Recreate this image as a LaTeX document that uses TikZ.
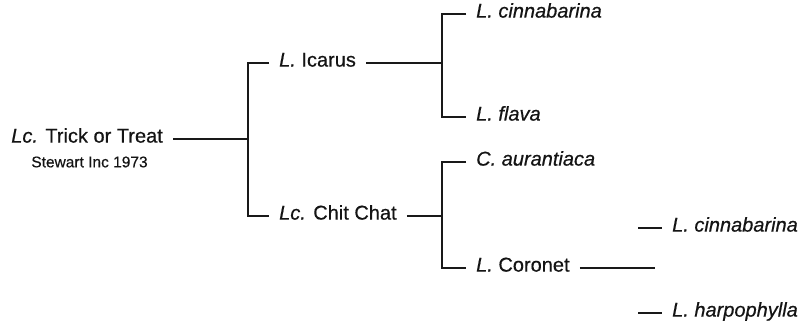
\documentclass[tikz,border=0pt]{standalone}
\usepackage{fontspec}
\setmainfont{Liberation Sans}[BoldFont=Liberation Sans,BoldFeatures={FakeBold=0.5},BoldItalicFont=Liberation Sans Italic,BoldItalicFeatures={FakeBold=0.5}]
\begin{document}
\begin{tikzpicture}[x=1pt,y=-1pt,
  lbl/.style={inner xsep=10pt,inner ysep=0pt,text height=0.72em,text depth=0pt,font=\fontsize{20}{24}\selectfont\bfseries,text=black!92},
  sub/.style={inner sep=0pt,font=\fontsize{15.5}{18}\selectfont\bfseries,text=black!92},
  link/.style={line width=1.4pt,draw=black!90}]
\useasboundingbox[fill=white] (0,0) rectangle (801,328);
\node[lbl,anchor=east] (root) at (173,139) {\textit{Lc.} Trick or Treat};
\node[sub] (stew) at (89.5,162) {Stewart Inc 1973};
\coordinate (j1) at (248,139);
\node[lbl,anchor=west] (icarus) at (269,63) {\textit{L.} Icarus};
\node[lbl,anchor=west] (chit) at (269,216) {\textit{Lc.} Chit Chat};
\coordinate (j2) at (442,63);
\coordinate (j3) at (442,216);
\node[lbl,anchor=west] (cinn) at (466,14) {\textit{L. cinnabarina}};
\node[lbl,anchor=west] (flava) at (466,117) {\textit{L. flava}};
\node[lbl,anchor=west] (aur) at (466,162) {\textit{C. aurantiaca}};
\node[lbl,anchor=west] (coro) at (466,268) {\textit{L.} Coronet};
\coordinate (c3) at (655,268);
\node[lbl,anchor=west] (cinn2) at (662,228) {\textit{L. cinnabarina}};
\node[lbl,anchor=west] (harp) at (662,313) {\textit{L. harpophylla}};
\coordinate (d1) at (638,228);
\coordinate (d2) at (638,313);
\draw[link] (root.east) -- (j1);
\draw[link] (icarus.west) -- (icarus.west -| j1) -- (chit.west -| j1) -- (chit.west);
\draw[link] (icarus.east) -- (j2);
\draw[link] (chit.east) -- (j3);
\draw[link] (cinn.west) -- (cinn.west -| j2) -- (flava.west -| j2) -- (flava.west);
\draw[link] (aur.west) -- (aur.west -| j3) -- (coro.west -| j3) -- (coro.west);
\draw[link] (coro.east) -- (c3);
\draw[link] (d1) -- (cinn2.west);
\draw[link] (d2) -- (harp.west);
\end{tikzpicture}
\end{document}
